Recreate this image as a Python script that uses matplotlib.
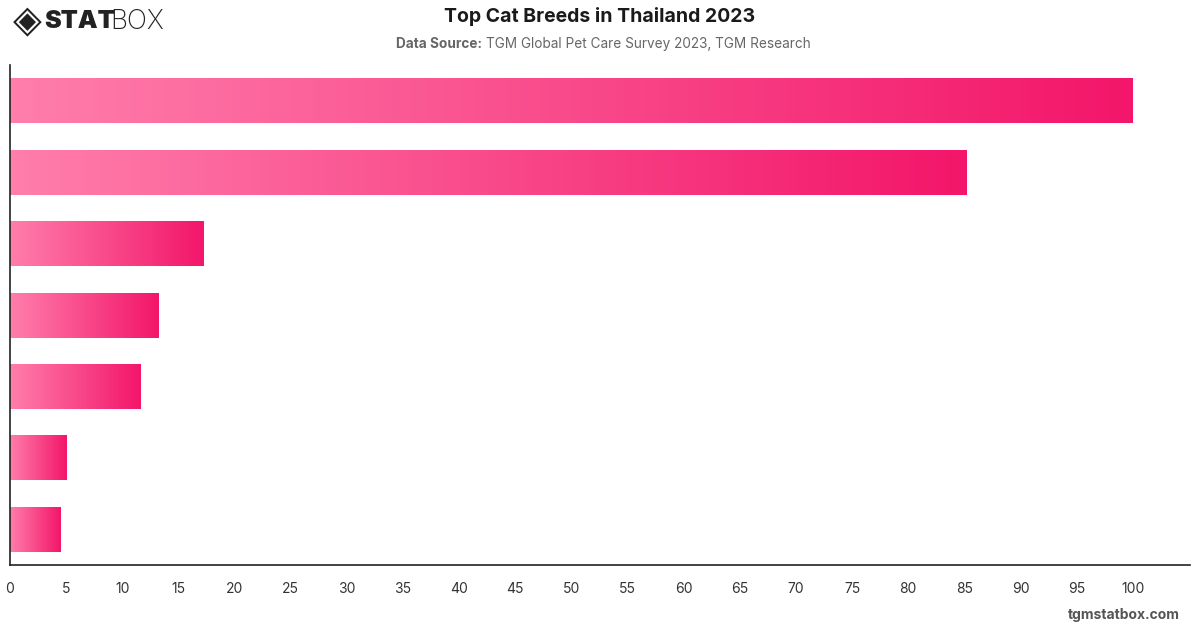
import numpy as np
import matplotlib
matplotlib.use("Agg")
import matplotlib.pyplot as plt
from matplotlib.colors import LinearSegmentedColormap
from matplotlib.patches import Rectangle

plt.rcParams['font.family'] = ['Inter', 'DejaVu Sans']

# --- data ---
breeds = ['Breed 1', 'Breed 2', 'Breed 3', 'Breed 4', 'Breed 5', 'Breed 6', 'Breed 7']
shares = [100.0, 85.2, 17.2, 13.2, 11.6, 5.0, 4.5]
x_ticks = list(range(0, 101, 5))

title = 'Top Cat Breeds in Thailand 2023'
source = 'TGM Global Pet Care Survey 2023, TGM Research'

cmap = LinearSegmentedColormap.from_list('pinkgrad', ['#ff7eab', '#f3166a'])

fig = plt.figure(figsize=(12, 6.28), dpi=100)
ax = fig.add_axes([10 / 1200, 63 / 628, 1180 / 1200, 500 / 628])

n = len(breeds)
ypos = np.arange(n)
bar_h = 0.63
grad = np.linspace(0, 1, 256).reshape(1, -1)

# each bar gets its own left->right gradient
for y, v in zip(ypos, shares):
    rect = Rectangle((0, y - bar_h / 2), v, bar_h, facecolor='none', edgecolor='none')
    ax.add_patch(rect)
    im = ax.imshow(grad, cmap=cmap, aspect='auto', interpolation='bicubic',
                   extent=(0, v, y + bar_h / 2, y - bar_h / 2), zorder=2)
    im.set_clip_path(rect)

ax.set_xlim(0, 105.1)
ax.set_ylim(n - 0.5, -0.5)
ax.set_yticks([])
ax.set_xticks(x_ticks)
ax.set_xticklabels([str(t) for t in x_ticks])
ax.tick_params(axis='x', length=0, pad=12, labelsize=10, labelcolor='#333333')
for s in ['top', 'right']:
    ax.spines[s].set_visible(False)
for s in ['left', 'bottom']:
    ax.spines[s].set_color('#222222')
    ax.spines[s].set_linewidth(1.2)

# header
fig.text(0.5, 1 - 17 / 628, title, ha='center', va='center',
         fontsize=14, fontweight='bold', color='#1a1a1a')
fig.text(482 / 1200, 1 - 44 / 628, 'Data Source:', ha='right', va='center',
         fontsize=9.8, fontweight='bold', color='#666666')
fig.text(486 / 1200, 1 - 44 / 628, source, ha='left', va='center',
         fontsize=9.8, color='#666666')

# logo
fig.text(13 / 1200, 1 - 22 / 628, '◈', ha='left', va='center',
         fontsize=27, color='#222222', family='DejaVu Sans')
fig.text(44 / 1200, 1 - 22 / 628, 'STAT', ha='left', va='center',
         fontsize=18, fontweight='black', color='#222222')
fig.text(110 / 1200, 1 - 22 / 628, 'BOX', ha='left', va='center',
         fontsize=19, fontweight='light', color='#222222')

# footer
fig.text(1180 / 1200, 1 - 615 / 628, 'tgmstatbox.com', ha='right', va='center',
         fontsize=10, fontweight='bold', color='#555555')

fig.savefig('out.png', dpi=100)
